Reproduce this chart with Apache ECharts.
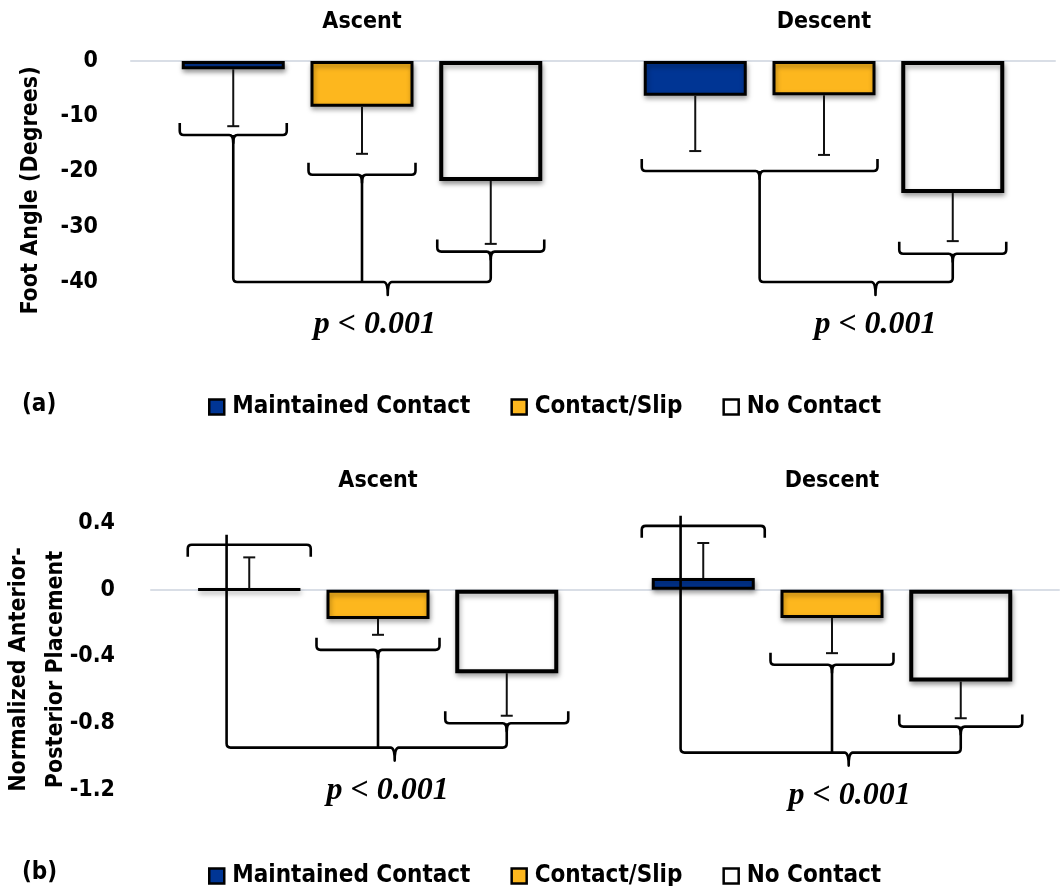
<!DOCTYPE html>
<html>
<head>
<meta charset="utf-8">
<script src="https://cdn.jsdelivr.net/npm/echarts@6/dist/echarts.min.js"></script>
<style>
  html, body { margin: 0; padding: 0; background: #fff; }
  #chart { width: 1063px; height: 886px; }
</style>
</head>
<body>
<div id="chart"></div>
<script>
// ---------------- DATA ----------------
const categories = ['Ascent', 'Descent'];
const seriesNames = ['Maintained Contact', 'Contact/Slip', 'No Contact'];

// (a) Foot angle (degrees)
const angleMaintained = [-1.5, -6.3];
const angleSlip = [-8.3, -6.2];
const angleNoContact = [-21.7, -23.9];
const angleErrMaintained = [10.3, 10.0];
const angleErrSlip = [8.5, 10.8];
const angleErrNoContact = [11.4, 8.7];
const angleTicks = [0, -10, -20, -30, -40];

// (b) Normalized anterior-posterior placement
const apMaintained = [0.004, 0.07];
const apSlip = [-0.175, -0.17];
const apNoContact = [-0.50, -0.55];
const apErrMaintained = [0.19, 0.21];
const apErrSlip = [0.095, 0.21];
const apErrNoContact = [0.255, 0.22];
const apTicks = [0.4, 0, -0.4, -0.8, -1.2];

// significance brackets: groups of bars (by index), bracket levels, joining level
const angleBracketGroups = [[[0], [1], [2]], [[0, 1], [2]]];
const angleBracketLevels = [[-13.4, -20.6, -34.5], [-19.9, -34.9]];
const angleJoinLevels = [-40, -40];
const apBracketGroups = [[[0], [1], [2]], [[0], [1], [2]]];
const apBracketLevels = [[0.27, -0.36, -0.80], [0.383, -0.449, -0.82]];
const apJoinLevels = [-0.946, -0.976];
const pLabels = ['p < 0.001', 'p < 0.001'];

// ---------------- STYLE ----------------
const BAR_W = 103;
const STEP = BAR_W * 1.25;
const COLORS = ['#003594', '#FDB71E', '#FFFFFF'];
const BORDERS = [3, 3, 4];
const LABEL_FONT = '"DejaVu Sans Condensed", "DejaVu Sans", sans-serif';
const LEGEND_FONT = '"DejaVu Sans Condensed", "DejaVu Sans", sans-serif';
const LABEL_AT_A = [0.55, 0.6];
const LABEL_AT_B = [0.575, 0.603];

function barSeries(name, idx, data, xi, yi) {
  return {
    type: 'bar', name: name, xAxisIndex: xi, yAxisIndex: yi,
    data: data, barWidth: BAR_W, barGap: '25%',
    itemStyle: {
      color: COLORS[idx], borderColor: '#000', borderWidth: BORDERS[idx],
      shadowColor: 'rgba(0,0,0,0.35)', shadowBlur: 5, shadowOffsetX: 1, shadowOffsetY: 3
    },
    z: 2
  };
}

function errorSeries(vals, errs, xi, yi) {
  const data = [];
  vals.forEach((arr, bi) => arr.forEach((v, ci) => data.push([ci, bi, v, errs[bi][ci]])));
  return {
    type: 'custom', xAxisIndex: xi, yAxisIndex: yi, clip: false, z: 3, silent: true,
    data: data,
    renderItem: function (params, api) {
      const ci = api.value(0), bi = api.value(1), v = api.value(2), e = api.value(3);
      const sgn = v >= 0 ? 1 : -1;
      const p0 = api.coord([ci, v]);
      const p1 = api.coord([ci, v + sgn * e]);
      const x = p0[0] + (bi - 1) * STEP;
      const cap = 6;
      return {
        type: 'group', children: [
          { type: 'line', shape: { x1: x, y1: p0[1], x2: x, y2: p1[1] }, style: { stroke: '#111', lineWidth: 2 } },
          { type: 'line', shape: { x1: x - cap, y1: p1[1], x2: x + cap, y2: p1[1] }, style: { stroke: '#111', lineWidth: 2 } }
        ]
      };
    }
  };
}

function bracketSeries(groupsArr, levelsArr, joinArr, xi, yi, pad, labelAt) {
  const H = 12, R = 4, C = 8, C2 = 13, LW = 2.6, CUSP_AT = 0.6, INV_SHIFT = -0.22 * BAR_W;
  return {
    type: 'custom', xAxisIndex: xi, yAxisIndex: yi, clip: false, z: 5, silent: true,
    data: categories.map((c, i) => [i, 0]),
    renderItem: function (params, api) {
      const ci = params.dataIndex;
      const groups = groupsArr[ci], levels = levelsArr[ci];
      const center = api.coord([ci, 0])[0];
      const yOf = v => api.coord([ci, v])[1];
      const barCenter = i => center + (i - 1) * STEP;
      const st = { stroke: '#000', fill: 'none', lineWidth: LW, lineJoin: 'round' };
      const children = [];
      const legs = [];
      groups.forEach((g, k) => {
        const x1 = barCenter(g[0]) - BAR_W / 2 - pad;
        const x2 = barCenter(g[g.length - 1]) + BAR_W / 2 + pad;
        const xm = (x1 + x2) / 2;
        const yh = yOf(levels[k]);
        let d;
        if (levels[k] <= 0) {
          d = `M${x1} ${yh - H} L${x1} ${yh - R} Q${x1} ${yh} ${x1 + R} ${yh} L${xm - R} ${yh} Q${xm} ${yh} ${xm} ${yh + C} Q${xm} ${yh} ${xm + R} ${yh} L${x2 - R} ${yh} Q${x2} ${yh} ${x2} ${yh - R} L${x2} ${yh - H}`;
          legs.push({ x: xm, y: yh });
        } else {
          d = `M${x1} ${yh + H} L${x1} ${yh + R} Q${x1} ${yh} ${x1 + R} ${yh} L${x2 - R} ${yh} Q${x2} ${yh} ${x2} ${yh + R} L${x2} ${yh + H}`;
          legs.push({ x: xm + INV_SHIFT, y: yh - C - 2 });
        }
        children.push({ type: 'path', shape: { pathData: d }, style: st });
      });
      const yj = yOf(joinArr[ci]);
      const L = legs[0], Rt = legs[legs.length - 1];
      const xb = L.x + (Rt.x - L.x) * CUSP_AT;
      const bd = `M${L.x} ${L.y} L${L.x} ${yj - R} Q${L.x} ${yj} ${L.x + R} ${yj} L${xb - R} ${yj} Q${xb} ${yj} ${xb} ${yj + C2} Q${xb} ${yj} ${xb + R} ${yj} L${Rt.x - R} ${yj} Q${Rt.x} ${yj} ${Rt.x} ${yj - R} L${Rt.x} ${Rt.y}`;
      children.push({ type: 'path', shape: { pathData: bd }, style: st });
      for (let k = 1; k < legs.length - 1; k++) {
        children.push({ type: 'line', shape: { x1: legs[k].x, y1: legs[k].y, x2: legs[k].x, y2: yj }, style: { stroke: '#000', lineWidth: LW } });
      }
      children.push({
        type: 'text',
        style: {
          text: pLabels[ci], x: L.x + (Rt.x - L.x) * labelAt[ci], y: yj + 43,
          align: 'center', verticalAlign: 'middle',
          fontFamily: '"Liberation Serif", "Times New Roman", serif', fontStyle: 'italic', fontWeight: 'bold', fontSize: 32, fill: '#000'
        }
      });
      return { type: 'group', children: children };
    }
  };
}

const axisLabelStyle = { color: '#000', fontFamily: LABEL_FONT, fontWeight: 'bold', fontSize: 23 };
const legendCommon = {
  data: seriesNames, left: 203, itemWidth: 15, itemHeight: 15, itemGap: 40, icon: 'rect',
  itemStyle: { borderColor: '#000', borderWidth: 2.5 },
  textStyle: { color: '#000', fontFamily: LEGEND_FONT, fontWeight: 'bold', fontSize: 24, padding: [0, 0, 0, 3] },
  selectedMode: false
};

const chart = echarts.init(document.getElementById('chart'), null, { renderer: 'canvas' });
chart.setOption({
  animation: false,
  backgroundColor: '#fff',
  title: [
    { text: '(a)', left: 17, top: 388, textStyle: { color: '#000', fontFamily: LEGEND_FONT, fontWeight: 'bold', fontSize: 24 } },
    { text: '(b)', left: 17, top: 856, textStyle: { color: '#000', fontFamily: LEGEND_FONT, fontWeight: 'bold', fontSize: 24 } }
  ],
  legend: [
    Object.assign({}, legendCommon, { top: 390 }),
    Object.assign({}, legendCommon, { top: 859 })
  ],
  grid: [
    { left: 131, top: 61, width: 924, height: 221, outerBoundsMode: 'none' },
    { left: 151, top: 523, width: 908, height: 267, outerBoundsMode: 'none' }
  ],
  xAxis: [
    { type: 'category', gridIndex: 0, data: categories, position: 'top',
      axisLine: { show: true, onZero: true, lineStyle: { color: '#D9DEE6', width: 2 } },
      axisTick: { show: false }, axisLabel: Object.assign({ margin: 27 }, axisLabelStyle) },
    { type: 'category', gridIndex: 1, data: categories, position: 'bottom',
      axisLine: { show: true, onZero: true, lineStyle: { color: '#D9DEE6', width: 2 } },
      axisTick: { show: false }, axisLabel: { show: false } },
    { type: 'category', gridIndex: 1, data: categories, position: 'top',
      axisLine: { show: false, onZero: false }, axisTick: { show: false },
      axisLabel: Object.assign({ margin: 30 }, axisLabelStyle) }
  ],
  yAxis: [
    { type: 'value', gridIndex: 0,
      min: Math.min(...angleTicks), max: Math.max(...angleTicks), interval: angleTicks[0] - angleTicks[1],
      axisLine: { show: false }, axisTick: { show: false }, splitLine: { show: false },
      axisLabel: Object.assign({ margin: 33 }, axisLabelStyle),
      name: 'Foot Angle (Degrees)', nameLocation: 'middle', nameGap: 88, nameMoveOverlap: false,
      nameTextStyle: { color: '#000', fontFamily: LABEL_FONT, fontWeight: 'bold', fontSize: 23, padding: [0, 38, 0, 0] } },
    { type: 'value', gridIndex: 1,
      min: Math.min(...apTicks), max: Math.max(...apTicks), interval: apTicks[0] - apTicks[1],
      axisLine: { show: false }, axisTick: { show: false }, splitLine: { show: false },
      axisLabel: Object.assign({ margin: 36 }, axisLabelStyle),
      name: 'Normalized Anterior-\nPosterior Placement', nameLocation: 'middle', nameGap: 76, nameMoveOverlap: false,
      nameTextStyle: { color: '#000', fontFamily: LABEL_FONT, fontWeight: 'bold', fontSize: 23, lineHeight: 37, padding: [0, 26, 0, 0] } }
  ],
  series: [
    barSeries(seriesNames[0], 0, angleMaintained, 0, 0),
    barSeries(seriesNames[1], 1, angleSlip, 0, 0),
    barSeries(seriesNames[2], 2, angleNoContact, 0, 0),
    errorSeries([angleMaintained, angleSlip, angleNoContact], [angleErrMaintained, angleErrSlip, angleErrNoContact], 0, 0),
    bracketSeries(angleBracketGroups, angleBracketLevels, angleJoinLevels, 0, 0, 2, LABEL_AT_A),
    barSeries(seriesNames[0], 0, apMaintained, 1, 1),
    barSeries(seriesNames[1], 1, apSlip, 1, 1),
    barSeries(seriesNames[2], 2, apNoContact, 1, 1),
    errorSeries([apMaintained, apSlip, apNoContact], [apErrMaintained, apErrSlip, apErrNoContact], 1, 1),
    bracketSeries(apBracketGroups, apBracketLevels, apJoinLevels, 1, 1, 10, LABEL_AT_B)
  ]
});
</script>
</body>
</html>
